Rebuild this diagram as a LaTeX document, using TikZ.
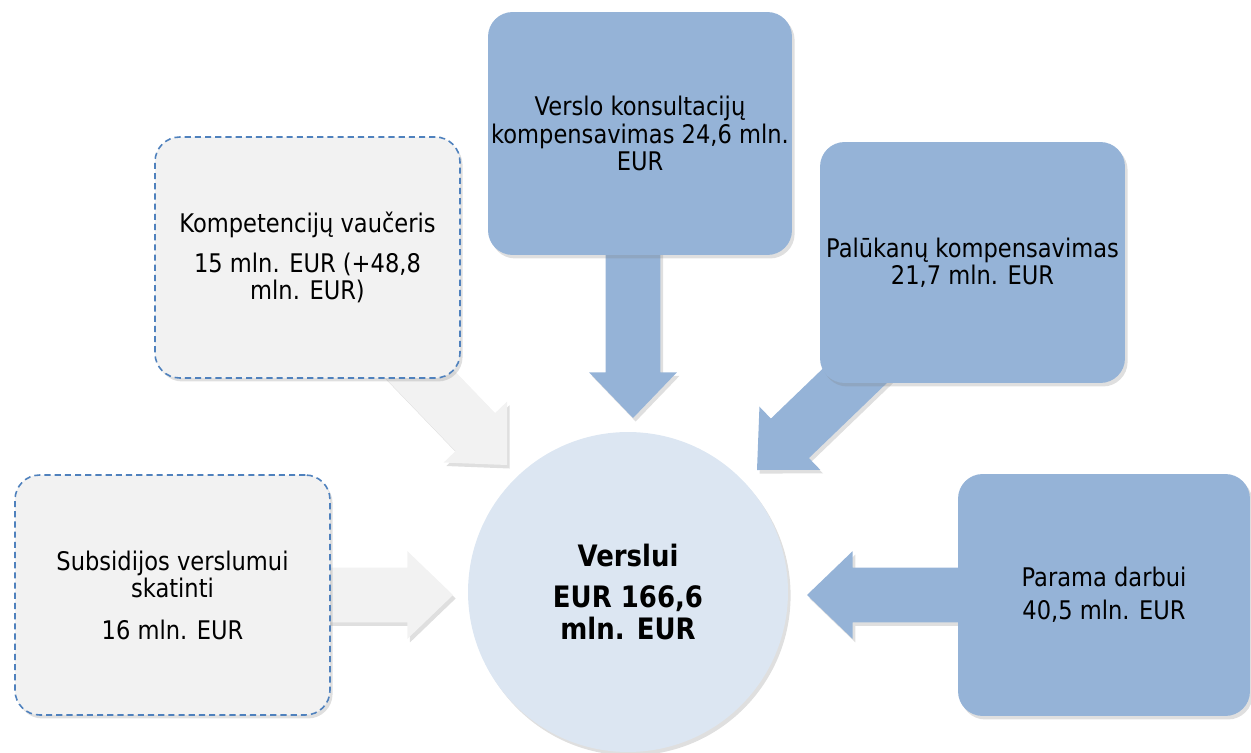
\documentclass[tikz,border=0pt]{standalone}
\usepackage{fontspec}
\setmainfont{DejaVu Sans}[FakeStretch=0.88]
\usepackage{tikz}
\usetikzlibrary{positioning,calc,shadows,backgrounds}
\definecolor{boxgrey}{RGB}{242,242,242}
\definecolor{boxblue}{RGB}{149,179,215}
\definecolor{hubblue}{RGB}{220,230,242}
\definecolor{dashblue}{RGB}{79,129,189}
\tikzset{
    soft shadow/.style={drop shadow={opacity=0.25, shadow xshift=1.5pt, shadow yshift=-2pt}},
    box/.style={rectangle, rounded corners=14pt, inner sep=0pt, align=center,
        font=\fontsize{14.6}{15.6}\selectfont, soft shadow},
    grey box/.style={box, fill=boxgrey, draw=dashblue, line width=0.9pt, dash pattern=on 3.5pt off 2.3pt},
    blue box/.style={box, fill=boxblue},
    hub/.style={circle, fill=hubblue, minimum size=6.4cm, inner sep=0pt, align=center,
        font=\fontsize{16.8}{18.5}\selectfont\bfseries, soft shadow},
    grey arrow/.style={fill=boxgrey, soft shadow},
    blue arrow/.style={fill=boxblue, soft shadow}
}
% block arrow: style, from, to
\newcommand{\blockarrow}[3]{%
  \coordinate (ba-h) at ($(#3)!26pt!(#2)$);
  \path[#1] ($(#2)!15.6pt!90:(#3)$) -- ($(ba-h)!15.6pt!-90:(#2)$) -- ($(ba-h)!25pt!-90:(#2)$)
    -- (#3) -- ($(ba-h)!25pt!90:(#2)$) -- ($(ba-h)!15.6pt!90:(#2)$) -- ($(#2)!15.6pt!-90:(#3)$) -- cycle;
}

\begin{document}
\begin{tikzpicture}[x=0.02cm, y=-0.02cm]
    \useasboundingbox (0,0) rectangle (1251,753);

    % Boxes around the centre
    \node[grey box, minimum width=6.1cm, minimum height=4.82cm] (komp) at (307.5,257.5)
        {Kompetencijų vaučeris\\[7pt]15 mln. EUR (+48,8\\mln. EUR)};
    \node[blue box, minimum width=6.08cm, minimum height=4.86cm] (verslo) at (640,133.5)
        {Verslo konsultacijų\\kompensavimas 24,6 mln.\\EUR};
    \node[blue box, minimum width=6.1cm, minimum height=4.82cm] (palu) at (972.5,262.5)
        {Palūkanų kompensavimas\\21,7 mln. EUR};
    \node[grey box, minimum width=6.3cm, minimum height=4.8cm] (subs) at (172.5,595)
        {Subsidijos verslumui\\skatinti\\[8pt]16 mln. EUR};
    \node[blue box, minimum width=5.84cm, minimum height=4.84cm] (parama) at (1104,595)
        {Parama darbui\\[3pt]40,5 mln. EUR};

    % Centre
    \node[hub] (hub) at (628,592) {Verslui\\[5pt]EUR 166,6\\mln. EUR};

    % Arrow tips
    \coordinate (komp-tip) at (507,465);
    \coordinate (verslo-tip) at (633,418);
    \coordinate (verslo-tail) at (verslo-tip |- verslo.center);
    \coordinate (palu-tip) at (757,470);
    \coordinate (subs-tip) at (453,595);
    \coordinate (parama-tip) at (807,595);

    % Arrows
    \begin{scope}[on background layer]
        \blockarrow{grey arrow}{komp.center}{komp-tip}
        \blockarrow{blue arrow}{verslo-tail}{verslo-tip}
        \blockarrow{blue arrow}{palu.center}{palu-tip}
        \blockarrow{grey arrow}{subs.center}{subs-tip}
        \blockarrow{blue arrow}{parama.center}{parama-tip}
    \end{scope}
\end{tikzpicture}
\end{document}
